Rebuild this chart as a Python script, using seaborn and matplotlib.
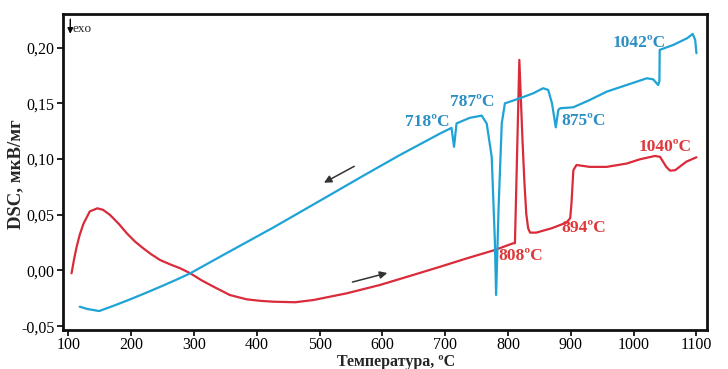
import numpy as np
import pandas as pd
import matplotlib
matplotlib.use("Agg")
import matplotlib.pyplot as plt
from matplotlib.ticker import FuncFormatter
import seaborn as sns

# Heating curve (red)
heat_T = [105, 109, 113, 118, 124, 134, 146, 155, 166, 180, 193, 206, 219, 232, 246,
          262, 278, 294, 312, 331, 357, 384, 405, 426, 461, 490, 543, 596, 649, 692,
          735, 779, 808, 811, 818, 823, 826, 829, 832, 835, 845, 870, 893, 899, 901,
          904, 909, 930, 957, 989, 1010, 1034, 1042, 1052, 1058, 1066, 1084, 1100]
heat_V = [-0.0025, 0.010, 0.021, 0.032, 0.042, 0.053, 0.0558, 0.0545, 0.050, 0.042,
          0.0334, 0.026, 0.020, 0.0145, 0.0094, 0.0055, 0.002, -0.0025, -0.0088,
          -0.0145, -0.022, -0.0259, -0.0272, -0.028, -0.0285, -0.0265, -0.0205,
          -0.013, -0.004, 0.0034, 0.011, 0.0184, 0.0244, 0.0245, 0.189, 0.117, 0.080,
          0.051, 0.038, 0.034, 0.034, 0.038, 0.043, 0.047, 0.060, 0.090, 0.0947,
          0.093, 0.093, 0.096, 0.0998, 0.1028, 0.102, 0.093, 0.0896, 0.090, 0.0977,
          0.1016]

# Cooling curve (blue)
cool_T = [118, 130, 149, 175, 200, 225, 250, 275, 294, 350, 426, 511, 570, 628,
          692, 710, 714, 718, 739, 758, 766, 774, 779, 781, 785, 790, 795, 819, 840,
          856, 864, 870, 876, 880, 883, 904, 930, 957, 989, 1021, 1031, 1039, 1041,
          1041.5, 1063, 1085, 1094, 1098, 1100]
cool_V = [-0.0325, -0.0345, -0.0364, -0.0310, -0.0255, -0.0197, -0.0137, -0.0075,
          -0.0025, 0.0150, 0.0385, 0.0660, 0.0852, 0.1037, 0.123, 0.128,
          0.111, 0.132, 0.137, 0.139, 0.132, 0.102, 0.027, -0.022, 0.057, 0.132,
          0.150, 0.1546, 0.159, 0.1636, 0.162, 0.150, 0.1285, 0.144, 0.1456, 0.1465,
          0.153, 0.1605, 0.1665, 0.1725, 0.1716, 0.1665, 0.170, 0.198, 0.2024,
          0.2084, 0.2123, 0.207, 0.195]

blue_labels = ["718\u00baC", "787\u00baC", "875\u00baC", "1042\u00baC"]
blue_label_T = [671, 743, 921, 1009]
blue_label_V = [0.1333, 0.1513, 0.134, 0.204]
red_labels = ["808\u00baC", "894\u00baC", "1040\u00baC"]
red_label_T = [820, 921, 1050]
red_label_V = [0.013, 0.038, 0.111]

x_ticks = [100, 200, 300, 400, 500, 600, 700, 800, 900, 1000, 1100]
y_ticks = [-0.05, 0.00, 0.05, 0.10, 0.15, 0.20]

RED = "#d92b3a"
BLUE = "#1fa3d6"
BLUE_TXT = "#2b8fc4"
RED_TXT = "#e0383a"

sns.set_style("ticks")
plt.rcParams["font.family"] = ["Liberation Serif", "DejaVu Serif"]

fig = plt.figure(figsize=(7.28, 3.69), dpi=100)
ax = fig.add_axes([63 / 728, 1 - 330 / 369, (707 - 63) / 728, (330 - 14) / 369])

heat = pd.DataFrame({"T": heat_T, "V": heat_V})
cool = pd.DataFrame({"T": cool_T, "V": cool_V})
sns.lineplot(data=heat, x="T", y="V", sort=False, color=RED, lw=1.6, ax=ax)
sns.lineplot(data=cool, x="T", y="V", sort=False, color=BLUE, lw=1.6, ax=ax)

for s, t, v in zip(blue_labels, blue_label_T, blue_label_V):
    ax.text(t, v, s, color=BLUE_TXT, fontsize=12.5, fontweight="bold",
            ha="center", va="center")
for s, t, v in zip(red_labels, red_label_T, red_label_V):
    ax.text(t, v, s, color=RED_TXT, fontsize=12.5, fontweight="bold",
            ha="center", va="center")

# direction arrows
ax.annotate("", xy=(503, 0.0776), xytext=(559, 0.0947),
            arrowprops=dict(arrowstyle="-|>", color="#333333", lw=1.1,
                            mutation_scale=11))
ax.annotate("", xy=(612, -0.0016), xytext=(548, -0.011),
            arrowprops=dict(arrowstyle="-|>", color="#333333", lw=1.1,
                            mutation_scale=11))
# exo marker
ax.annotate("", xy=(103, 0.2100), xytext=(103, 0.2280),
            arrowprops=dict(arrowstyle="-|>", color="black", lw=1.0,
                            mutation_scale=8))
ax.text(106.5, 0.2170, "exo", fontsize=9.5, ha="left", va="center")

ax.set_xlim(91.4, 1116.8)
ax.set_ylim(-0.0534, 0.2302)
ax.set_xticks(x_ticks)
ax.set_yticks(y_ticks)
ax.yaxis.set_major_formatter(FuncFormatter(
    lambda v, p: f"{v:.2f}".replace(".", ",").replace("-0,00", "0,00")))
ax.tick_params(axis="y", direction="out", length=4, width=1.2, labelsize=11.5,
               colors="black", pad=2)
ax.tick_params(axis="x", direction="out", length=4, width=1.2, labelsize=11.5,
               colors="black", pad=1)
for sp in ax.spines.values():
    sp.set_visible(True)
    sp.set_linewidth(2.0)
    sp.set_color("#111111")

ax.set_xlabel("Температура, \u00baC", fontsize=11.5, fontweight="bold")
ax.set_ylabel("DSC, мкВ/мг", fontsize=13.5, fontweight="bold")
ax.xaxis.set_label_coords(0.517, -0.075)
ax.yaxis.set_label_coords(-0.06, 0.494)

fig.savefig("out.png", dpi=100)
